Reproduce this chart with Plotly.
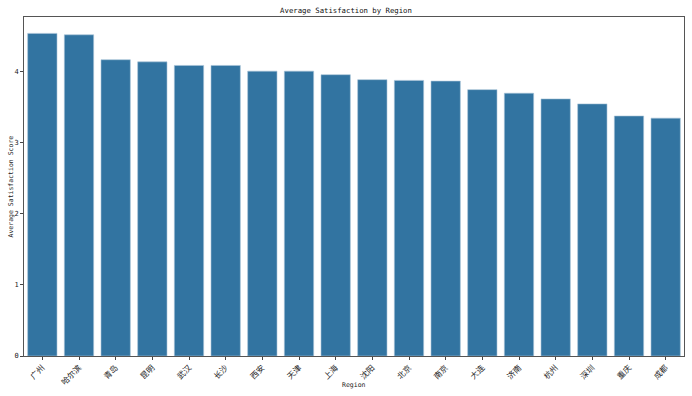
import plotly.graph_objects as go

regions = ["广州", "哈尔滨", "青岛", "昆明", "武汉", "长沙", "西安", "天津", "上海",
           "沈阳", "北京", "南京", "大连", "济南", "杭州", "深圳", "重庆", "成都"]
scores = [4.53, 4.51, 4.16, 4.13, 4.08, 4.08, 4.00, 4.00, 3.95,
          3.88, 3.87, 3.86, 3.74, 3.69, 3.61, 3.54, 3.37, 3.34]
y_ticks = [0, 1, 2, 3, 4]

FONT = "DejaVu Sans Mono, Noto Sans CJK SC, sans-serif"

fig = go.Figure(go.Bar(
    x=regions, y=scores, width=0.8,
    marker=dict(color="#3274a1", line=dict(color="#a9c4d8", width=0.6)),
))

fig.update_layout(
    width=692, height=396,
    margin=dict(l=24, r=8, t=17, b=40, autoexpand=False),
    plot_bgcolor="white", paper_bgcolor="white",
    font=dict(family=FONT, size=7, color="#222222"),
    title=dict(text="Average Satisfaction by Region", x=0.5, xanchor="center",
               y=1 - 10 / 396, yanchor="middle", font=dict(size=7.3, color="#111111")),
    showlegend=False,
    bargap=0.2,
    annotations=[
        dict(text="Region", xref="paper", yref="paper", x=0.5, y=-29 / 339,
             xanchor="center", yanchor="middle", showarrow=False, font=dict(size=6.5)),
        dict(text="Average Satisfaction Score", xref="paper", yref="paper",
             x=-14 / 660, y=0.5, xanchor="center", yanchor="middle", textangle=-90,
             showarrow=False, font=dict(size=6.5)),
    ],
)
fig.update_xaxes(
    range=[-0.5, 17.5], tickangle=-45, ticks="outside", ticklen=3, tickcolor="#444",
    showline=True, linecolor="#555", linewidth=1, mirror=True, showgrid=False,
    automargin=False,
    tickfont=dict(size=8, family="Noto Sans CJK SC"),
)
fig.update_yaxes(
    range=[0, 4.76], tickvals=y_ticks, ticks="outside", ticklen=3, tickcolor="#444",
    showline=True, linecolor="#555", linewidth=1, mirror=True, showgrid=False, zeroline=False,
    automargin=False,
    tickfont=dict(size=7),
)

fig.write_html("out.html", config={"displayModeBar": False},
               post_script="document.body.style.margin='0';")
